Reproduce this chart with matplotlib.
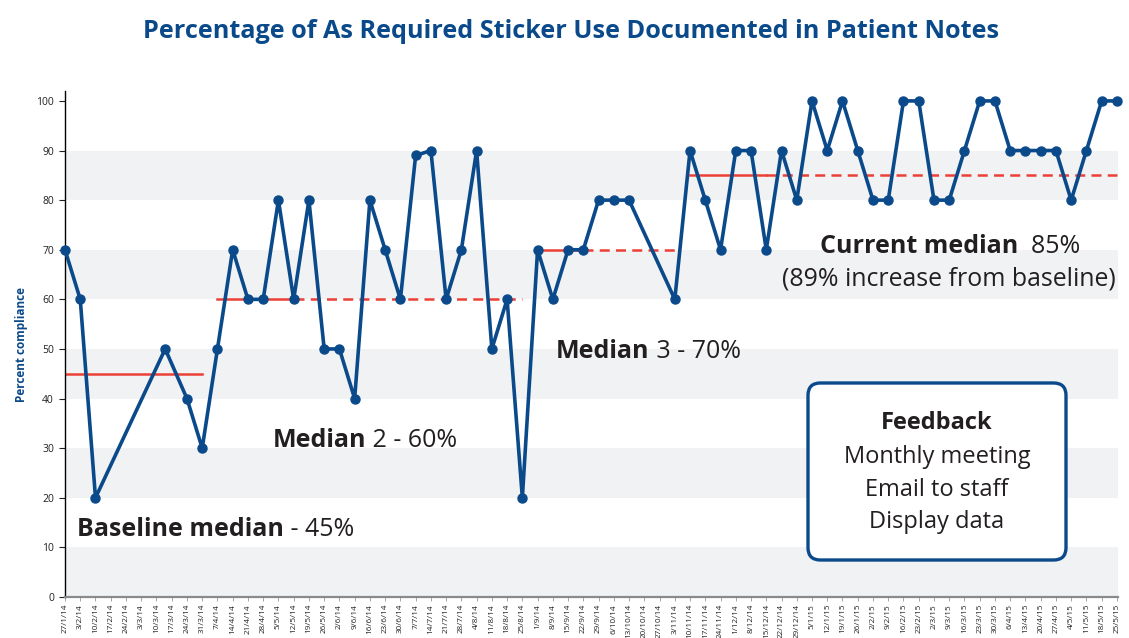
import pandas as pd
import matplotlib.pyplot as plt
from matplotlib.patches import FancyBboxPatch

W, H = 1129, 638
plt.rcParams['font.family'] = ['Open Sans', 'DejaVu Sans']

# weekly audit results
point_dates = ["27/1/14", "3/2/14", "10/2/14", "14/3/14", "24/3/14", "31/3/14",
               "7/4/14", "14/4/14", "21/4/14", "28/4/14", "5/5/14", "12/5/14", "19/5/14", "26/5/14",
               "2/6/14", "9/6/14", "16/6/14", "23/6/14", "30/6/14", "7/7/14", "14/7/14", "21/7/14", "28/7/14",
               "4/8/14", "11/8/14", "18/8/14", "25/8/14", "1/9/14", "8/9/14", "15/9/14", "22/9/14", "29/9/14",
               "6/10/14", "13/10/14", "3/11/14", "10/11/14", "17/11/14", "24/11/14",
               "1/12/14", "8/12/14", "15/12/14", "22/12/14", "29/12/14", "5/1/15", "12/1/15", "19/1/15", "26/1/15",
               "2/2/15", "9/2/15", "16/2/15", "23/2/15", "2/3/15", "9/3/15", "16/3/15", "23/3/15", "30/3/15",
               "6/4/15", "13/4/15", "20/4/15", "27/4/15", "4/5/15", "11/5/15", "18/5/15", "25/5/15"]
compliance = [70, 60, 20, 50, 40, 30,
              50, 70, 60, 60, 80, 60, 80, 50,
              50, 40, 80, 70, 60, 89, 90, 60, 70,
              90, 50, 60, 20, 70, 60, 70, 70, 80,
              80, 80, 60, 90, 80, 70,
              90, 90, 70, 90, 80, 100, 90, 100, 90,
              80, 80, 100, 100, 80, 80, 90, 100, 100,
              90, 90, 90, 90, 80, 90, 100, 100]

# median lines (solid over the points used, dashed as extension)
median_values = [45, 60, 70, 85]
median_start = ["27/1/14", "7/4/14", "1/9/14", "10/11/14"]
median_solid_end = ["31/3/14", "12/5/14", "22/9/14", "15/12/14"]
median_end = ["31/3/14", "25/8/14", "3/11/14", "25/5/15"]

first_week = "27/1/14"
last_week = "25/5/15"

navy = "#0b4a8a"
red = "#ec4036"
band = "#f1f2f4"
ink = "#231f20"


def d(s):
    return pd.to_datetime(s, dayfirst=True)


weeks = pd.date_range(d(first_week), d(last_week), freq="7D")
week_labels = [f"{w.day}/{w.month}/{w:%y}" for w in weeks]
x = [d(s) for s in point_dates]

fig = plt.figure(figsize=(W / 100, H / 100), dpi=100)
ax = fig.add_axes([65 / W, 1 - 597 / H, (1118 - 65) / W, (597 - 91) / H])

for lo in range(0, 100, 20):
    ax.axhspan(lo, lo + 10, color=band, lw=0, zorder=0)

for v, s, se, e in zip(median_values, median_start, median_solid_end, median_end):
    ax.plot([d(s), d(se)], [v, v], color=red, lw=1.8, zorder=2)
    if d(e) > d(se):
        ax.plot([d(se), d(e)], [v, v], color=red, lw=1.8, ls=(0, (4, 2.5)), zorder=2)

ax.plot(x, compliance, color=navy, lw=2.6, marker="o", ms=6.5, zorder=3, clip_on=False)

ax.set_xlim(d(first_week), d(last_week) + pd.Timedelta(days=0.5))
ax.set_ylim(0, 102)
ax.set_yticks(range(0, 101, 10))
ax.tick_params(axis="y", labelsize=7.5, length=4, width=0.8, colors=ink, pad=4)
ax.set_xticks(weeks)
ax.set_xticklabels(week_labels, rotation=90, fontsize=5.9, color=ink)
ax.tick_params(axis="x", length=3, width=0.6, color="#999999", pad=2)

for side in ["top", "right"]:
    ax.spines[side].set_visible(False)
ax.spines["left"].set_color("black")
ax.spines["left"].set_linewidth(1)
ax.spines["bottom"].set_color("#8a8a8a")
ax.spines["bottom"].set_linewidth(1.6)

ax.set_ylabel("Percent compliance", color=navy, fontsize=8.5, fontweight="bold", labelpad=6)

fig.text(571 / W, 1 - 31 / H, "Percentage of As Required Sticker Use Documented in Patient Notes",
         ha="center", va="center", fontsize=18.2, fontweight="bold", color=navy)


def fx(px):
    return px / W


def fy(py):
    return 1 - py / H


def two_part(px, py, bold, rest, size=18):
    t = fig.text(fx(px), fy(py), bold, fontsize=size, fontweight="bold", color=ink, va="baseline")
    ax.annotate(rest, xy=(1, 0), xycoords=t, fontsize=size, color=ink, va="bottom", ha="left",
                annotation_clip=False)
    return t


two_part(77, 536, "Baseline median", " - 45%")
two_part(273, 447, "Median", " 2 - 60%")
two_part(556, 358, "Median", " 3 - 70%")
two_part(820, 253, "Current median", "  85%")
fig.text(fx(782), fy(286), "(89% increase from baseline)", fontsize=17.9, color=ink, va="baseline")

box = FancyBboxPatch((fx(808), fy(560)), fx(1066) - fx(808), fy(383) - fy(560),
                     boxstyle="round,pad=0,rounding_size=0.011", mutation_aspect=W / H,
                     transform=fig.transFigure, fc="white", ec=navy, lw=2.4, zorder=5)
fig.patches.append(box)
fig.text(fx(937), fy(429), "Feedback", fontsize=17, fontweight="bold", color=ink, ha="center",
         va="baseline", zorder=6)
for py, line in zip([463, 496, 528], ["Monthly meeting", "Email to staff", "Display data"]):
    fig.text(fx(937), fy(py), line, fontsize=17, color=ink, ha="center", va="baseline", zorder=6)

fig.savefig("out.png", dpi=100)
